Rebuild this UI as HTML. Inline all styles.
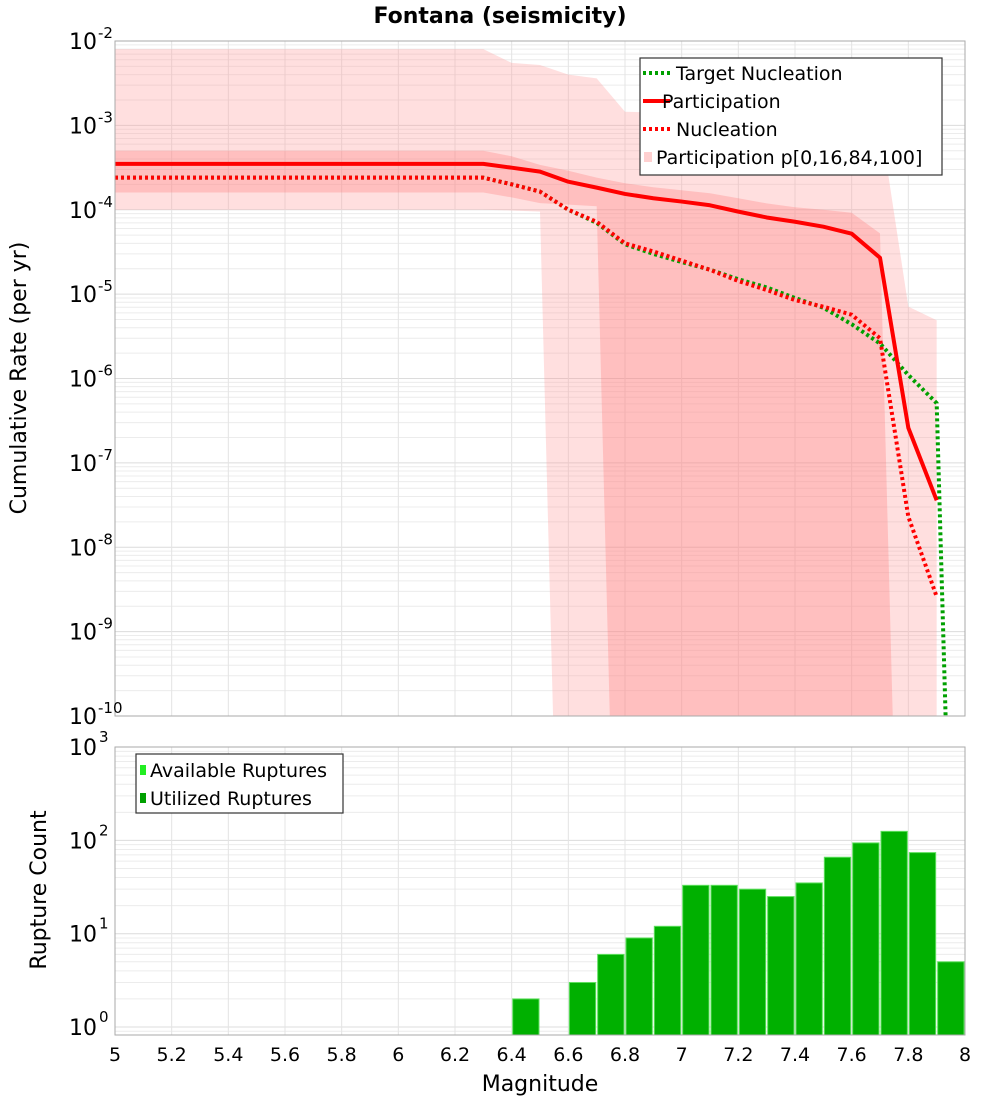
<!DOCTYPE html>
<html><head><meta charset="utf-8"><style>
html,body{margin:0;padding:0;background:#fff;}
svg{display:block;font-family:"DejaVu Sans","Liberation Sans",sans-serif;}
</style></head><body>
<svg id="c" width="1000" height="1100" viewBox="0 0 1000 1100">
<defs>
<clipPath id="clipTop"><rect x="115" y="41" width="850" height="675"/></clipPath>
<clipPath id="clipBot"><rect x="115" y="747" width="850" height="288"/></clipPath>
</defs>
<text x="500" y="23" text-anchor="middle" font-size="22" font-weight="bold">Fontana (seismicity)</text>
<g id="topPlot"></g>
<g id="botPlot"></g>
<text transform="translate(26,378) rotate(-90)" text-anchor="middle" font-size="22">Cumulative Rate (per yr)</text>
<text transform="translate(46,890) rotate(-90)" text-anchor="middle" font-size="22">Rupture Count</text>
<text x="540" y="1091" text-anchor="middle" font-size="22">Magnitude</text>
</svg>
<script>
// ---- data ----
const mags = [5.0,5.1,5.2,5.3,5.4,5.5,5.6,5.7,5.8,5.9,6.0,6.1,6.2,6.3,6.4,6.5,6.6,6.7,6.8,6.9,7.0,7.1,7.2,7.3,7.4,7.5,7.6,7.7,7.8,7.9];
const participation = [3.5e-4,3.5e-4,3.5e-4,3.5e-4,3.5e-4,3.5e-4,3.5e-4,3.5e-4,3.5e-4,3.5e-4,3.5e-4,3.5e-4,3.5e-4,3.5e-4,3.15e-4,2.83e-4,2.15e-4,1.83e-4,1.54e-4,1.37e-4,1.25e-4,1.13e-4,9.5e-5,8.1e-5,7.2e-5,6.3e-5,5.2e-5,2.7e-5,2.6e-7,3.6e-8];
const nucleation = [2.4e-4,2.4e-4,2.4e-4,2.4e-4,2.4e-4,2.4e-4,2.4e-4,2.4e-4,2.4e-4,2.4e-4,2.4e-4,2.4e-4,2.4e-4,2.4e-4,2.0e-4,1.64e-4,1.0e-4,7.2e-5,4.0e-5,3.2e-5,2.5e-5,1.94e-5,1.43e-5,1.12e-5,8.5e-6,7.1e-6,5.7e-6,3.0e-6,2.3e-8,2.6e-9];
const targetMags = [5.0,5.1,5.2,5.3,5.4,5.5,5.6,5.7,5.8,5.9,6.0,6.1,6.2,6.3,6.4,6.5,6.6,6.7,6.8,6.9,7.0,7.1,7.2,7.3,7.4,7.5,7.6,7.7,7.8,7.9,7.94];
const targetNucleation = [2.4e-4,2.4e-4,2.4e-4,2.4e-4,2.4e-4,2.4e-4,2.4e-4,2.4e-4,2.4e-4,2.4e-4,2.4e-4,2.4e-4,2.4e-4,2.4e-4,2.0e-4,1.64e-4,1.0e-4,7.0e-5,3.9e-5,3.0e-5,2.4e-5,1.95e-5,1.5e-5,1.2e-5,9.0e-6,6.9e-6,4.4e-6,2.6e-6,1.1e-6,5.1e-7,1e-11];
const p0 = [1e-4,1e-4,1e-4,1e-4,1e-4,1e-4,1e-4,1e-4,1e-4,1e-4,1e-4,1e-4,1e-4,1e-4,9.8e-5,9.5e-5,1e-17,1e-17,1e-17,1e-17,1e-17,1e-17,1e-17,1e-17,1e-17,1e-17,1e-17,1e-17,1e-17,1e-17];
const p16 = [1.6e-4,1.6e-4,1.6e-4,1.6e-4,1.6e-4,1.6e-4,1.6e-4,1.6e-4,1.6e-4,1.6e-4,1.6e-4,1.6e-4,1.6e-4,1.6e-4,1.4e-4,1.2e-4,1.15e-4,1.1e-4,1e-17,1e-17,1e-17,1e-17,1e-17,1e-17,1e-17,1e-17,1e-17,1e-17,1e-17,1e-17];
const p84 = [5e-4,5e-4,5e-4,5e-4,5e-4,5e-4,5e-4,5e-4,5e-4,5e-4,5e-4,5e-4,5e-4,5e-4,4.3e-4,3.4e-4,2.9e-4,2.4e-4,2.06e-4,1.85e-4,1.7e-4,1.57e-4,1.37e-4,1.19e-4,1.07e-4,1.0e-4,9.2e-5,5.25e-5,1e-17,1e-17];
const p100 = [8e-3,8e-3,8e-3,8e-3,8e-3,8e-3,8e-3,8e-3,8e-3,8e-3,8e-3,8e-3,8e-3,8e-3,5.5e-3,5.2e-3,4.0e-3,3.6e-3,1.45e-3,1.42e-3,1.4e-3,1.38e-3,1.36e-3,1.34e-3,1.32e-3,1.3e-3,1.3e-3,1.14e-3,7.1e-6,4.9e-6];
const binCenters = [6.45,6.55,6.65,6.75,6.85,6.95,7.05,7.15,7.25,7.35,7.45,7.55,7.65,7.75,7.85,7.95];
const ruptureCounts = [2,0,3,6,9,12,33,33,30,25,35,66,94,125,74,5];
const xTicks = [5,5.2,5.4,5.6,5.8,6,6.2,6.4,6.6,6.8,7,7.2,7.4,7.6,7.8,8];
const xTickLabels = ["5","5.2","5.4","5.6","5.8","6","6.2","6.4","6.6","6.8","7","7.2","7.4","7.6","7.8","8"];
const topYTicks = [-2,-3,-4,-5,-6,-7,-8,-9,-10];
const botYTicks = [0,1,2,3];

// ---- axes ----
const NS="http://www.w3.org/2000/svg";
const X0=115,X1=965;
const xs = m => X0 + (m-5)/3*(X1-X0);
const yTop = v => 41 + (-2 - Math.log10(v)) * 84.375;
const yBot = v => 1027 - Math.log10(v) * 93.3;
function mk(tag, attrs, parent){const e=document.createElementNS(NS,tag);for(const k in attrs)e.setAttribute(k,attrs[k]);parent.appendChild(e);return e;}
const topG=document.getElementById('topPlot'), botG=document.getElementById('botPlot');

function grid(g, yMin, yMax, yf, yT, yB){
  for(let d=yMin; d<yMax; d++){
    for(let k=1;k<10;k++){
      const y=yf(k*Math.pow(10,d));
      if(y<yT-0.5||y>yB+0.5) continue;
      const l=mk('line',{x1:X0,x2:X1,y1:y,y2:y,stroke:k==1?'#dcdcdc':'#ececec','stroke-width':1},g);
      
      
    }
  }
  xTicks.forEach(t=>{
    const l=mk('line',{x1:xs(t),x2:xs(t),y1:yT,y2:yB,stroke:'#e4e4e4','stroke-width':1},g);
    
    
  });
}
mk('rect',{x:X0,y:41,width:850,height:675,fill:'#fff'},topG);
grid(topG,-11,-1,yTop,41,716);
mk('rect',{x:X0,y:747,width:850,height:288,fill:'#fff'},botG);
grid(botG,-1,3,yBot,747,1035);

// ---- top bands ----
const gTop=mk('g',{'clip-path':'url(#clipTop)'},topG);
function band(lo,hi,fill,name){
  let pts=mags.map((m,i)=>xs(m)+','+yTop(hi[i]));
  for(let i=mags.length-1;i>=0;i--) pts.push(xs(mags[i])+','+yTop(lo[i]));
  const p=mk('polygon',{points:pts.join(' '),fill:fill},gTop);
  
  
}
band(p0,p100,'rgba(255,150,150,0.3)','band-p0-p100');
band(p16,p84,'rgba(255,120,120,0.3)','band-p16-p84');
function line(xsArr,vals,color,dash,name){
  const d=xsArr.map((m,i)=>(i?'L':'M')+xs(m)+' '+yTop(vals[i])).join(' ');
  const p=mk('path',{d:d,fill:'none',stroke:color,'stroke-width':4,'stroke-dasharray':dash||'none','stroke-linejoin':'round'},gTop);
  
  
}
line(targetMags,targetNucleation,'#00a000','3 3','target-nucleation-line');
line(mags,nucleation,'#ff0000','3 3','nucleation-line');
line(mags,participation,'#ff0000',null,'participation-line');
mk('rect',{x:X0,y:41,width:850,height:675,fill:'none',stroke:'#aaa','stroke-width':1},topG);

topYTicks.forEach(e=>{
  const t=mk('text',{x:97,y:yTop(Math.pow(10,e))+8,'text-anchor':'end','font-size':22},topG);
  
  
  t.textContent='10';
  const s=mk('text',{x:98,y:yTop(Math.pow(10,e))-3,'font-size':15},topG);
  
  
  s.textContent=String(e);
});

const lg=mk('g',{},topG);


mk('rect',{x:640,y:58,width:302,height:117,fill:'#fff',stroke:'#333','stroke-width':1.2},lg);
const legItems=[['Target Nucleation','#00a000','3 3',73,676],['Participation','#ff0000','none',101,662],['Nucleation','#ff0000','3 3',129,676],['Participation p[0,16,84,100]','band','',157,656]];
legItems.forEach(it=>{
  if(it[1]==='band'){ mk('rect',{x:644,y:it[3]-5,width:8,height:10,fill:'rgba(255,150,150,0.45)'},lg); }
  else { mk('line',{x1:643,x2:670,y1:it[3],y2:it[3],stroke:it[1],'stroke-width':4,'stroke-dasharray':it[2]},lg); }
  const t=mk('text',{x:it[4],y:it[3]+7,'font-size':19},lg);
  
  
  t.textContent=it[0];
});

// ---- bottom bars ----
const gBot=mk('g',{'clip-path':'url(#clipBot)'},botG);
binCenters.forEach((c,i)=>{
  const v=ruptureCounts[i]; if(!v) return;
  const x=xs(c-0.05)+1, w=xs(c+0.05)-xs(c-0.05)-2, y=yBot(v);
  const r=mk('rect',{x:x,y:y,width:w,height:1040-y,fill:'#00b000',stroke:'#5fe05f','stroke-width':1},gBot);
  
  
});
mk('rect',{x:X0,y:747,width:850,height:288,fill:'none',stroke:'#aaa','stroke-width':1},botG);
botYTicks.forEach(e=>{
  const t=mk('text',{x:97,y:yBot(Math.pow(10,e))+8,'text-anchor':'end','font-size':22},botG);
  
  
  t.textContent='10';
  const s=mk('text',{x:99,y:yBot(Math.pow(10,e))-5,'font-size':15},botG);
  
  
  s.textContent=String(e);
});
xTicks.forEach((t,i)=>{
  const tx=mk('text',{x:xs(t),y:1061,'text-anchor':'middle','font-size':19},botG);
  
  
  tx.textContent=xTickLabels[i];
});
const lb=mk('g',{},botG);


mk('rect',{x:136,y:754,width:207,height:59,fill:'#fff',stroke:'#333','stroke-width':1.2},lb);
[['Available Ruptures','#22ee22',770],['Utilized Ruptures','#00a000',798]].forEach(it=>{
  mk('rect',{x:140,y:it[2]-5,width:6,height:10,fill:it[1]},lb);
  const t=mk('text',{x:150,y:it[2]+7,'font-size':19},lb);
  
  
  t.textContent=it[0];
});
</script>
</body></html>
